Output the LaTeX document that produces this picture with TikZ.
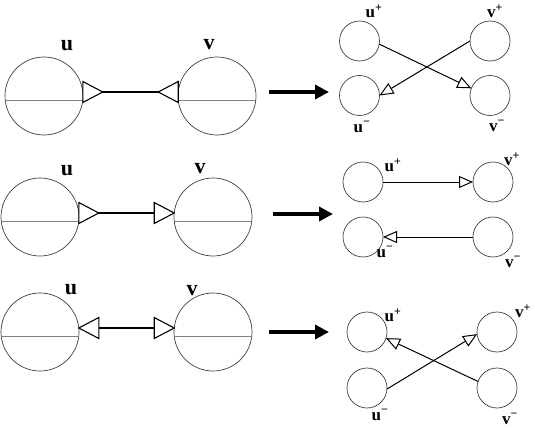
\documentclass[tikz,border=0pt]{standalone}
\usepackage{fontspec}
\setmainfont{Liberation Serif}
\usetikzlibrary{arrows.meta,calc}
\tikzset{
  big/.style={circle,draw=black!75,line width=0.7pt,minimum size=78pt,inner sep=0pt,outer sep=0pt},
  small/.style={circle,draw=black!75,line width=0.7pt,minimum size=40pt,inner sep=0pt,outer sep=0pt},
  chord/.style={draw=black!50,line width=0.8pt},
  conn/.style={draw=black,line width=1.1pt},
  tri/.style={draw=black,line width=1.1pt,fill=white,line join=miter},
  sarr/.style={draw=black,line width=1pt,-{Triangle[open,length=14pt,width=12pt,line join=miter]}},
  fat/.style={draw=black,line width=4pt,-{Triangle[length=14pt,width=14pt]}},
  blab/.style={font=\bfseries\fontsize{22}{22}\selectfont,inner sep=0pt},
  slab/.style={font=\bfseries\fontsize{17}{17}\selectfont,inner sep=0pt}
}
\newcommand{\mytri}[2]{\draw[tri] (#1) ++(0,-10.5) -- ++({(#2)*20},10.5) -- ++({-(#2)*20},10.5) -- cycle;}
\begin{document}
\begin{tikzpicture}[x=1pt,y=-1pt]
\useasboundingbox (0,0) rectangle (535,428);

% ---------- Row 1 ----------
\node[big] (u1) at (44,96) {};
\node[big] (v1) at (217,96) {};
\draw[chord] ($(u1.center)+(-38.8,4)$) -- ($(u1.center)+(38.8,4)$);
\draw[chord] ($(v1.center)+(-38.8,4)$) -- ($(v1.center)+(38.8,4)$);
\coordinate (ua1) at ($(u1.center)+(38.8,-4)$);
\coordinate (va1) at ($(v1.center)+(-38.8,-4)$);
\draw[conn] (ua1) -- (va1);
\mytri{ua1}{1}
\mytri{va1}{-1}
\node[blab] (lu1) at (67,46) {u};
\node[blab] (lv1) at (209,45) {v};

\coordinate (f1a) at (269,92);
\coordinate (f1b) at (329,92);
\draw[fat] (f1a) -- (f1b);

\node[small] (up1) at (359.5,41) {};
\node[small] (um1) at (359.5,95.5) {};
\node[small] (vp1) at (490,41) {};
\node[small] (vm1) at (490,95.5) {};
\draw[sarr] (up1.-9) -- (vm1.159);
\draw[sarr] (vp1.180) -- (um1.0);
\node[slab] (lup1) at (374,11) {u\textsuperscript{+}};
\node[slab] (lvp1) at (495,11) {v\textsuperscript{+}};
\node[slab] (lum1) at (362,127) {u\textsuperscript{−}};
\node[slab] (lvm1) at (497,126) {v\textsuperscript{−}};

% ---------- Row 2 ----------
\node[big] (u2) at (40,217) {};
\node[big] (v2) at (213,217) {};
\draw[chord] ($(u2.center)+(-38.8,4)$) -- ($(u2.center)+(38.8,4)$);
\draw[chord] ($(v2.center)+(-38.8,4)$) -- ($(v2.center)+(38.8,4)$);
\coordinate (ua2) at ($(u2.center)+(38.8,-4)$);
\coordinate (va2) at ($(v2.center)+(-38.8,-4)$);
\coordinate (vb2) at ($(va2)+(-20,0)$);
\draw[conn] (ua2) -- (va2);
\mytri{ua2}{1}
\mytri{vb2}{1}
\node[blab] (lu2) at (67,171) {u};
\node[blab] (lv2) at (200,169) {v};

\coordinate (f2a) at (273,214);
\coordinate (f2b) at (333,214);
\draw[fat] (f2a) -- (f2b);

\node[small] (up2) at (363,182) {};
\node[small] (um2) at (363,237) {};
\node[small] (vp2) at (493,182) {};
\node[small] (vm2) at (493,237) {};
\draw[sarr] (up2.east) -- (vp2.west);
\draw[sarr] (vm2.west) -- (um2.east);
\node[slab] (lup2) at (393,165) {u\textsuperscript{+}};
\node[slab] (lvp2) at (512,159) {v\textsuperscript{+}};
\node[slab] (lum2) at (385,252) {u\textsuperscript{−}};
\node[slab] (lvm2) at (513,262) {v\textsuperscript{−}};

% ---------- Row 3 ----------
\node[big] (u3) at (40,332) {};
\node[big] (v3) at (213,332) {};
\draw[chord] ($(u3.center)+(-38.8,4)$) -- ($(u3.center)+(38.8,4)$);
\draw[chord] ($(v3.center)+(-38.8,4)$) -- ($(v3.center)+(38.8,4)$);
\coordinate (ua3) at ($(u3.center)+(38.8,-4)$);
\coordinate (va3) at ($(v3.center)+(-38.8,-4)$);
\coordinate (ub3) at ($(ua3)+(20,0)$);
\coordinate (vb3) at ($(va3)+(-20,0)$);
\draw[conn] (ua3) -- (va3);
\mytri{ub3}{-1}
\mytri{vb3}{1}
\node[blab] (lu3) at (71,290) {u};
\node[blab] (lv3) at (192,291) {v};

\coordinate (f3a) at (269,332);
\coordinate (f3b) at (329,332);
\draw[fat] (f3a) -- (f3b);

\node[small] (up3) at (367,332) {};
\node[small] (um3) at (367,388) {};
\node[small] (vp3) at (497,332) {};
\node[small] (vm3) at (497,388) {};
\draw[sarr] (vm3.161) -- (up3.-18);
\draw[sarr] (um3.-3) -- (vp3.186);
\node[slab] (lup3) at (393,315) {u\textsuperscript{+}};
\node[slab] (lvp3) at (523,311) {v\textsuperscript{+}};
\node[slab] (lum3) at (380,415) {u\textsuperscript{−}};
\node[slab] (lvm3) at (510,419) {v\textsuperscript{−}};
\end{tikzpicture}
\end{document}
